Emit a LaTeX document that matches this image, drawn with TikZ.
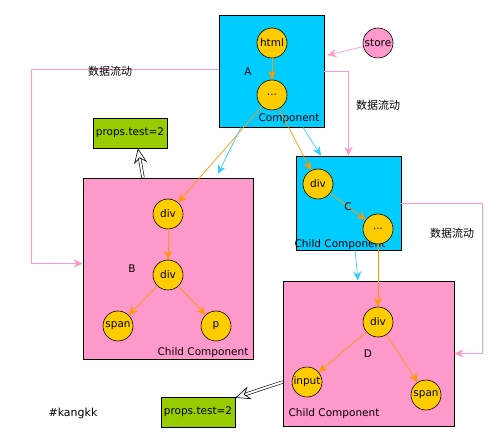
\documentclass[tikz,border=0pt]{standalone}
\usepackage{fontspec}
\setmainfont{DejaVu Sans}
\newfontfamily\cjk{Noto Sans CJK SC}
\usetikzlibrary{arrows.meta}
\definecolor{compblue}{HTML}{00CCFF}
\definecolor{comppink}{HTML}{FF99CC}
\definecolor{tagyellow}{HTML}{FFCC00}
\definecolor{propgreen}{HTML}{99CC00}
\definecolor{flowline}{HTML}{FF9900}
\definecolor{linkline}{HTML}{33CCFF}
\tikzset{
  comp/.style={draw=black, line width=0.8pt, inner sep=0pt},
  tag/.style={circle, draw=black, line width=0.6pt, fill=tagyellow,
    minimum size=30pt, inner sep=0pt, font=\fontsize{10.5}{12}\selectfont},
  props/.style={draw=black, line width=0.6pt, fill=propgreen,
    minimum width=74pt, minimum height=30pt, inner sep=0pt},
  flow/.style={draw=flowline, line width=0.7pt,
    -{Stealth[length=9pt,width=8pt]}},
  link/.style={draw=linkline, line width=0.7pt,
    -{Stealth[length=9pt,width=8pt]}},
  data/.style={draw=comppink, line width=0.7pt,
    -{Stealth[length=9pt,width=8pt]}},
  hollow/.style={draw=black, double=white, double distance=2pt,
    line width=0.6pt, -{Stealth[open,length=15pt,width=13pt,inset=5pt]}},
  cn/.style={font=\cjk\fontsize{11}{12}\selectfont}
}
\begin{document}
\begin{tikzpicture}[x=1pt,y=-1pt,font=\fontsize{10.5}{12}\selectfont]
  \useasboundingbox (0,0) rectangle (497,443);
  % components
  \node[comp, fill=compblue, minimum width=105pt, minimum height=112pt] (A) at (271.5,71) {};
  \node[comp, fill=comppink, minimum width=170pt, minimum height=181pt] (B) at (168,268.5) {};
  \node[comp, fill=compblue, minimum width=105pt, minimum height=94pt] (C) at (348.5,203) {};
  \node[comp, fill=comppink, minimum width=171pt, minimum height=145pt] (D) at (368.5,353.5) {};
  \node (labA) at (248,72) {A};
  \node (labB) at (132,269) {B};
  \node (labD) at (368,354) {D};
  \node (nameA) at (289,119) {Component};
  \node (nameB) at (203,353) {Child Component};
  \node (nameC) at (340,245) {Child Component};
  \node (nameD) at (334,414) {Child Component};
  % tags
  \node[tag] (html) at (272,43) {html};
  \node[tag] (dotsA) at (272,95) {...};
  \node[tag, fill=comppink] (store) at (378,43) {store};
  \node[tag] (divB1) at (168,214) {div};
  \node[tag] (divB2) at (168,275) {div};
  \node[tag] (spanB) at (118,326) {span};
  \node[tag] (pB) at (216,326) {p};
  \node[tag] (divC) at (318,184) {div};
  \node[tag] (dotsC) at (378,229) {...};
  \node[tag] (divD) at (378,322) {div};
  \node[tag] (inputD) at (307,382) {input};
  \node[tag] (spanD) at (426,395) {span};
  \node[props] (propsB) at (130,133) {props.test=2};
  \node[props] (propsD) at (198,412) {props.test=2};
  \node (sign) at (73,413) {\fontsize{11}{12}\selectfont\#kangkk};
  % tree edges
  \draw[flow] (html) -- (dotsA);
  \draw[flow] (dotsA) -- (divB1);
  \draw[flow] (dotsA) -- (divC);
  \draw[flow] (divB1) -- (divB2);
  \draw[flow] (divB2) -- (spanB);
  \draw[flow] (divB2) -- (pB);
  \draw[flow] (divC) -- node (labC) {C} (dotsC);
  \draw[flow] (dotsC) -- (divD);
  \draw[flow] (divD) -- (inputD);
  \draw[flow] (divD) -- (spanD);
  % component links
  \draw[link, shorten >=4pt] ([xshift=-30.5pt]A.south) -- ([xshift=48pt]B.north);
  \draw[link] ([xshift=31.5pt]A.south) -- ([xshift=-27.5pt]C.north);
  \draw[link] ([xshift=6.5pt]C.south) -- ([xshift=-10.5pt]D.north);
  % data flow
  \draw[data, shorten >=3pt] (store) -- ([yshift=15pt]A.east);
  \draw[data] (A.east) -| (C.north);
  \draw[data] ([yshift=2pt]A.west) -- ++(-187,0) |- ([yshift=5pt]B.west);
  \draw[data] (C.east) -- ++(81,0) |- (D.east);
  \node[cn] (flowL) at (110,71) {数据流动};
  \node[cn] (flowA) at (378,105) {数据流动};
  \node[cn] (flowC) at (452,233) {数据流动};
  % props passed up
  \draw[hollow] ([xshift=-25pt]B.north) -- ([xshift=8pt]propsB.south);
  \draw[hollow] ([yshift=-28.5pt]D.west) -- ([yshift=-1pt]propsD.north east);
\end{tikzpicture}
\end{document}
